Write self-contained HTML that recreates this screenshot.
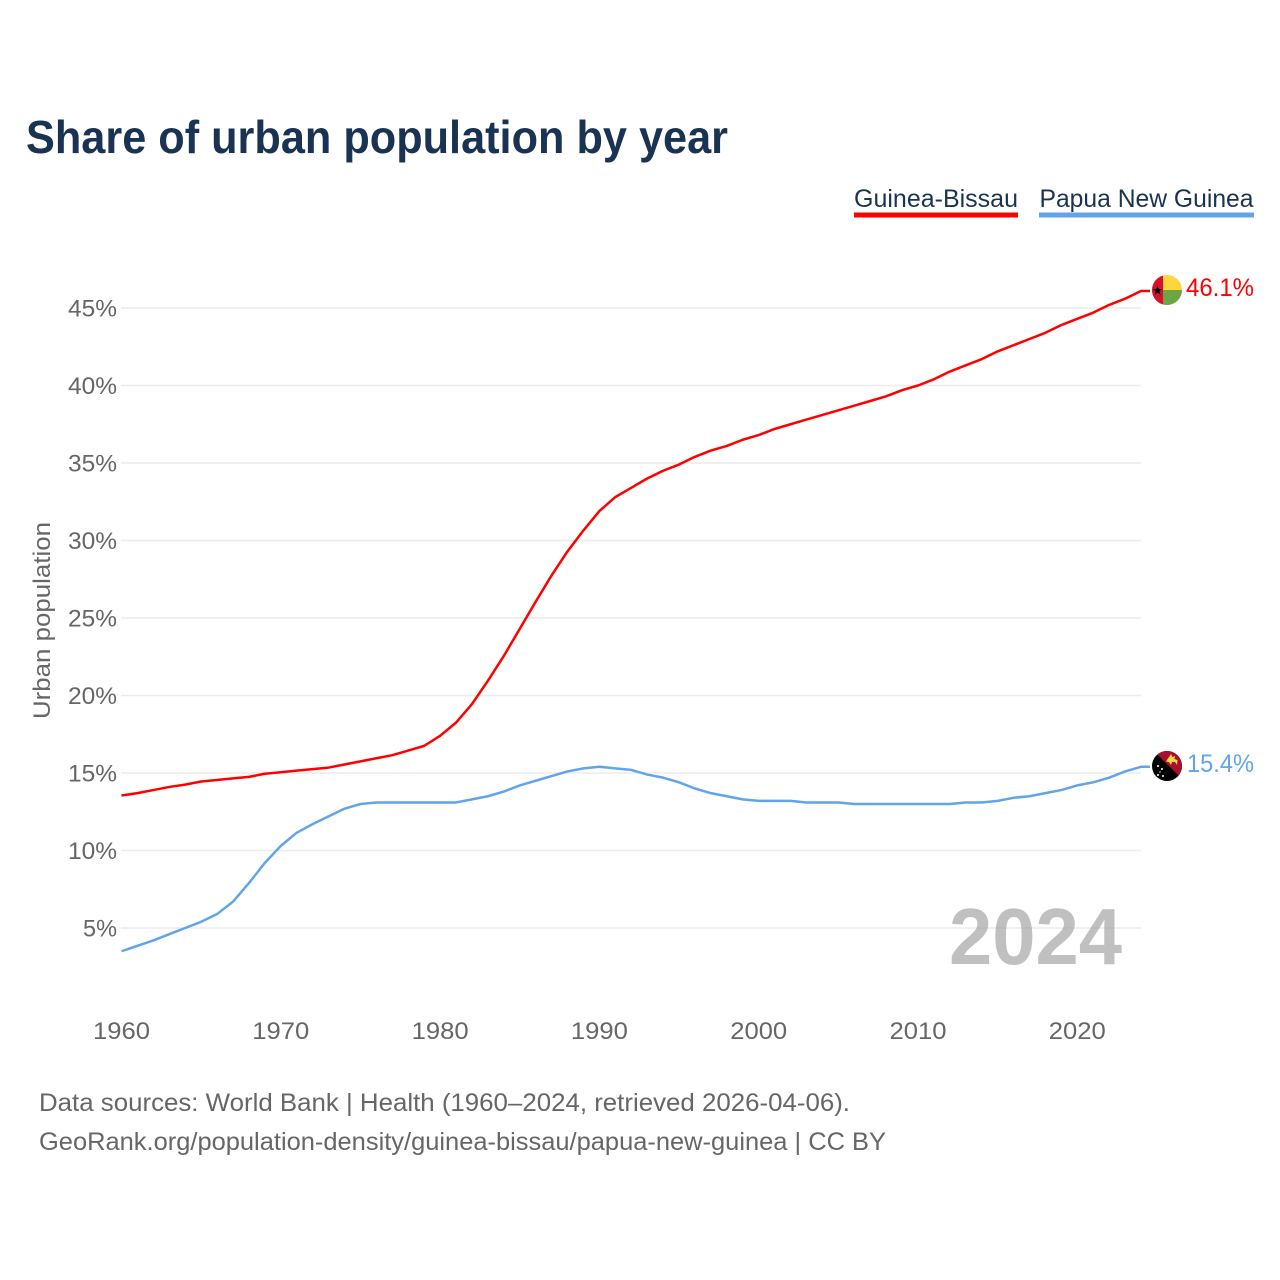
<!DOCTYPE html>
<html lang="en">
<head>
<meta charset="utf-8">
<title>Share of urban population by year</title>
<style>
html,body{margin:0;padding:0;background:#fff;}
svg{display:block;font-family:"Liberation Sans",sans-serif;}
</style>
</head>
<body>
<svg id="chart" xmlns="http://www.w3.org/2000/svg" width="1280" height="1280" viewBox="0 0 1280 1280">
  <rect width="1280" height="1280" fill="#fff"/>
  <text x="26" y="153" font-size="46" font-weight="700" fill="#1a3353" textLength="702" lengthAdjust="spacingAndGlyphs">Share of urban population by year</text>

  <g>
    <g>
      <text x="854" y="207" font-size="25" fill="#1a3353" textLength="164" lengthAdjust="spacingAndGlyphs">Guinea-Bissau</text>
      <rect x="854" y="212.5" width="164" height="5" fill="#ff0000"/>
    </g>
    <g>
      <text x="1039.500" y="207" font-size="25" fill="#1a3353" textLength="214" lengthAdjust="spacingAndGlyphs">Papua New Guinea</text>
      <rect x="1039" y="212.5" width="215" height="5" fill="#62a4ea"/>
    </g>
  </g>

  <g id="grid"></g>
  <g id="yticks"></g>
  <g id="xticks"></g>

  <text transform="translate(50,719) rotate(-90)" font-size="24" fill="#666" textLength="197" lengthAdjust="spacingAndGlyphs">Urban population</text>

  <text x="949" y="964" font-size="80" font-weight="700" fill="#999" fill-opacity="0.62" textLength="173" lengthAdjust="spacingAndGlyphs">2024</text>

  <g id="series"></g>

  <defs>
    <clipPath id="flag-clip-a"><circle cx="1167" cy="290" r="15"/></clipPath>
    <clipPath id="flag-clip-b"><circle cx="1167" cy="766" r="15"/></clipPath>
  </defs>

  <g clip-path="url(#flag-clip-a)">
    <rect x="1152" y="275" width="30" height="15" fill="#fcd63c"/>
    <rect x="1152" y="290" width="30" height="15" fill="#6ea544"/>
    <rect x="1152" y="275" width="11" height="30" fill="#d8102f"/>
    <polygon points="1157.500,285.500 1158.700,289 1162.300,289 1159.400,291.200 1160.500,294.700 1157.500,292.600 1154.500,294.700 1155.600,291.200 1152.700,289 1156.300,289" fill="#000"/>
  </g>
  <g clip-path="url(#flag-clip-b)">
    <rect x="1152" y="751" width="30" height="30" fill="#000"/>
    <polygon points="1154,751 1182,751 1182,779" fill="#a8102d"/>
    <path d="M1167,760 l2,-3 l2,-3 l1.500,3 l2.500,-1 l-0.500,3 l3,1 l-0.500,5 l-2,-3 l-3,0 l-1,3 l-2,-3 l-3,-0.500 z" fill="#fcd63c"/>
    <g fill="#fff">
      <circle cx="1158" cy="766" r="1"/>
      <circle cx="1162" cy="769" r="1"/>
      <circle cx="1158" cy="775" r="1"/>
      <circle cx="1163" cy="776" r="1"/>
      <circle cx="1160" cy="772" r="0.700"/>
    </g>
  </g>

  <text x="1186" y="296" font-size="25" fill="#ff0000" textLength="68" lengthAdjust="spacingAndGlyphs">46.1%</text>
  <text x="1187" y="772" font-size="25" fill="#62a4ea" textLength="67" lengthAdjust="spacingAndGlyphs">15.4%</text>

  <g>
    <text x="39" y="1111" font-size="25" fill="#666" textLength="811" lengthAdjust="spacingAndGlyphs">Data sources: World Bank | Health (1960–2024, retrieved 2026-04-06).</text>
    <text x="39" y="1150" font-size="25" fill="#666" textLength="847" lengthAdjust="spacingAndGlyphs">GeoRank.org/population-density/guinea-bissau/papua-new-guinea | CC BY</text>
  </g>
</svg>
<script>
const years = [1960,1961,1962,1963,1964,1965,1966,1967,1968,1969,1970,1971,1972,1973,1974,1975,1976,1977,1978,1979,1980,1981,1982,1983,1984,1985,1986,1987,1988,1989,1990,1991,1992,1993,1994,1995,1996,1997,1998,1999,2000,2001,2002,2003,2004,2005,2006,2007,2008,2009,2010,2011,2012,2013,2014,2015,2016,2017,2018,2019,2020,2021,2022,2023,2024];
const guineaBissau = [13.55,13.7,13.9,14.1,14.25,14.45,14.55,14.65,14.75,14.95,15.05,15.15,15.25,15.35,15.55,15.75,15.95,16.15,16.45,16.75,17.4,18.25,19.45,20.95,22.55,24.3,26.05,27.75,29.3,30.65,31.9,32.8,33.4,34.0,34.5,34.9,35.4,35.8,36.1,36.5,36.8,37.2,37.5,37.8,38.1,38.4,38.7,39.0,39.3,39.7,40.0,40.4,40.9,41.3,41.7,42.2,42.6,43.0,43.4,43.9,44.3,44.7,45.2,45.6,46.1];
const papuaNewGuinea = [3.5,3.85,4.2,4.6,5.0,5.4,5.9,6.7,7.9,9.2,10.3,11.15,11.7,12.2,12.7,13.0,13.1,13.1,13.1,13.1,13.1,13.1,13.3,13.5,13.8,14.2,14.5,14.8,15.1,15.3,15.4,15.3,15.2,14.9,14.7,14.4,14.0,13.7,13.5,13.3,13.2,13.2,13.2,13.1,13.1,13.1,13.0,13.0,13.0,13.0,13.0,13.0,13.0,13.1,13.1,13.2,13.4,13.5,13.7,13.9,14.2,14.4,14.7,15.1,15.4];
const yTickValues = [5,10,15,20,25,30,35,40,45];
const xTickValues = [1960,1970,1980,1990,2000,2010,2020];

const NS = 'http://www.w3.org/2000/svg';
const xScale = function (year) { return 121.5 + (year - 1960) * (1141 - 121.5) / (2024 - 1960); };
const yScale = function (value) { return 1005.5 - value * 15.5; };

const gridGroup = document.getElementById('grid');
const yTickGroup = document.getElementById('yticks');
const xTickGroup = document.getElementById('xticks');
const seriesGroup = document.getElementById('series');

yTickValues.forEach(function (value) {
  const gridline = document.createElementNS(NS, 'line');
  
  
  gridline.setAttribute('x1', 121);
  gridline.setAttribute('x2', 1141);
  gridline.setAttribute('y1', yScale(value));
  gridline.setAttribute('y2', yScale(value));
  gridline.setAttribute('stroke', '#ececec');
  gridline.setAttribute('stroke-width', '1.5');
  gridGroup.appendChild(gridline);

  const label = document.createElementNS(NS, 'text');
  
  
  label.setAttribute('x', 68);
  label.setAttribute('y', yScale(value) + 8.5);
  label.setAttribute('font-size', '24');
  label.setAttribute('fill', '#666');
  label.setAttribute('textLength', '49');
  label.setAttribute('lengthAdjust', 'spacingAndGlyphs');
  label.textContent = value + '%';
  if (value < 10) {
    label.setAttribute('x', 83);
    label.setAttribute('textLength', '34');
  }
  yTickGroup.appendChild(label);
});

xTickValues.forEach(function (year) {
  const label = document.createElementNS(NS, 'text');
  
  
  label.setAttribute('x', xScale(year) - 28.5);
  label.setAttribute('y', 1039);
  label.setAttribute('font-size', '24');
  label.setAttribute('fill', '#666');
  label.setAttribute('textLength', '57');
  label.setAttribute('lengthAdjust', 'spacingAndGlyphs');
  label.textContent = year;
  xTickGroup.appendChild(label);
});

const buildPath = function (values) {
  let d = '';
  values.forEach(function (value, i) {
    d += (i === 0 ? 'M' : 'L') + xScale(years[i]).toFixed(2) + ',' + yScale(value).toFixed(2);
  });
  d += 'L1150,' + yScale(values[values.length - 1]).toFixed(2);
  return d;
};

const guineaLine = document.createElementNS(NS, 'path');


guineaLine.setAttribute('d', buildPath(guineaBissau));
guineaLine.setAttribute('fill', 'none');
guineaLine.setAttribute('stroke', '#ff0000');
guineaLine.setAttribute('stroke-width', '2.5');
guineaLine.setAttribute('stroke-linejoin', 'round');
seriesGroup.appendChild(guineaLine);

const papuaLine = document.createElementNS(NS, 'path');


papuaLine.setAttribute('d', buildPath(papuaNewGuinea));
papuaLine.setAttribute('fill', 'none');
papuaLine.setAttribute('stroke', '#62a4ea');
papuaLine.setAttribute('stroke-width', '2.5');
papuaLine.setAttribute('stroke-linejoin', 'round');
seriesGroup.appendChild(papuaLine);
</script>
</body>
</html>
